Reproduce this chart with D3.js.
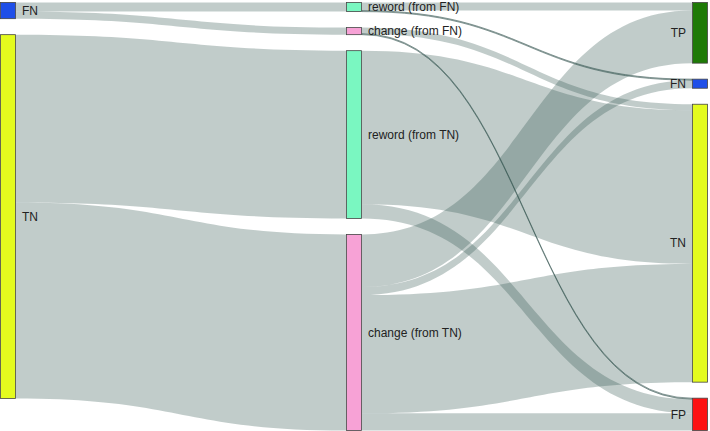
<!DOCTYPE html>
<html>
<head>
<meta charset="utf-8">
<script src="https://cdn.jsdelivr.net/npm/d3@7"></script>
<style>
body { margin: 0; background: #fff; }
.label { font-family: "Liberation Sans", Arial, sans-serif; font-size: 12px; fill: #222; }
</style>
</head>
<body>
<script>
var width = 710,
    height = 431;

// nodes, column by column (stacked from the top in this order)
var nodeNames   = ["FN", "TN", "reword (from FN)", "change (from FN)", "reword (from TN)", "change (from TN)", "TP", "FN", "TN", "FP"];
var nodeColumns = [0, 0, 1, 1, 1, 1, 2, 2, 2, 2];
var nodeColors  = ["#1f4fe8", "#e4fb1e", "#7af7c1", "#f7a2d6", "#7af7c1", "#f7a2d6", "#1e7a06", "#1f4fe8", "#e4fb1e", "#fd1212"];

// flows
var linkSources = [0, 0, 1,   1,   2, 2, 3, 3, 4,   4,  5,  5, 5,   5];
var linkTargets = [2, 3, 4,   5,   6, 7, 8, 9, 8,   9,  6,  7, 8,   9];
var linkValues  = [9, 7, 166, 194, 8, 1, 6, 1, 152, 14, 52, 8, 117, 17];

var nodeWidth = 16,
    nodePad = 16,
    y0 = 2.5,
    y1 = 430.5;

var nodes = nodeNames.map(function(name, i) {
  return {index: i, name: name, column: nodeColumns[i], color: nodeColors[i], sourceLinks: [], targetLinks: []};
});

var links = linkValues.map(function(v, i) {
  var l = {index: i, source: nodes[linkSources[i]], target: nodes[linkTargets[i]], value: v};
  l.source.sourceLinks.push(l);
  l.target.targetLinks.push(l);
  return l;
});

nodes.forEach(function(n) {
  n.value = Math.max(d3.sum(n.sourceLinks, function(l) { return l.value; }),
                     d3.sum(n.targetLinks, function(l) { return l.value; }));
});

var x = d3.scaleLinear()
    .domain([0, d3.max(nodeColumns)])
    .range([0, width - nodeWidth - 2]);

var columns = d3.groups(nodes, function(n) { return n.column; }).map(function(g) { return g[1]; });

var ky = d3.min(columns, function(c) {
  return (y1 - y0 - (c.length - 1) * nodePad) / d3.sum(c, function(n) { return n.value; });
});

var y = d3.scaleLinear().domain([0, 1]).range([0, ky]);

columns.forEach(function(c) {
  var top = y0;
  c.forEach(function(n) {
    n.x0 = x(n.column);
    n.x1 = n.x0 + nodeWidth;
    n.y0 = top;
    n.y1 = top + y(n.value);
    top = n.y1 + nodePad;
  });
});

links.forEach(function(l) { l.width = y(l.value); });

// links leave / enter a node ordered by the position of the other end
nodes.forEach(function(n) {
  n.sourceLinks.sort(function(a, b) { return a.target.y0 - b.target.y0; });
  n.targetLinks.sort(function(a, b) { return a.source.y0 - b.source.y0; });
  var sy = n.y0, ty = n.y0;
  n.sourceLinks.forEach(function(l) { l.sy0 = sy; sy += l.width; });
  n.targetLinks.forEach(function(l) { l.ty0 = ty; ty += l.width; });
});

function linkPath(d) {
  var xa = d.source.x1, xb = d.target.x0,
      xm = d3.interpolateNumber(xa, xb)(0.5),
      p = d3.path();
  p.moveTo(xa, d.sy0);
  p.bezierCurveTo(xm, d.sy0, xm, d.ty0, xb, d.ty0);
  p.lineTo(xb, d.ty0 + d.width);
  p.bezierCurveTo(xm, d.ty0 + d.width, xm, d.sy0 + d.width, xa, d.sy0 + d.width);
  p.closePath();
  return p.toString();
}

var svg = d3.select("body").append("svg")
    .attr("width", width)
    .attr("height", height);

svg.append("g")
  .selectAll("path")
  .data(links)
  .enter().append("path")
    .attr("d", linkPath)
    .style("fill", "rgba(50,85,80,0.3)")
    .style("stroke", function(d) { return d.width < 2 ? "rgba(50,80,76,0.55)" : "none"; })
    .style("stroke-width", 1);

var node = svg.append("g")
  .selectAll("g")
  .data(nodes)
  .enter().append("g");

node.append("rect")
    .attr("x", function(d) { return d.x0 + 0.5; })
    .attr("y", function(d) { return d.y0; })
    .attr("width", nodeWidth - 1)
    .attr("height", function(d) { return Math.max(1, d.y1 - d.y0); })
    .style("fill", function(d) { return d.color; })
    .style("stroke", "#444")
    .style("stroke-width", 0.8);

node.append("text")
    .attr("class", "label")
    .attr("x", function(d) { return d.column === 2 ? d.x0 - 6 : d.x1 + 6; })
    .attr("y", function(d) { return (d.y0 + d.y1) / 2; })
    .attr("dy", "0.35em")
    .attr("text-anchor", function(d) { return d.column === 2 ? "end" : "start"; })
    .text(function(d) { return d.name; });
</script>
</body>
</html>
